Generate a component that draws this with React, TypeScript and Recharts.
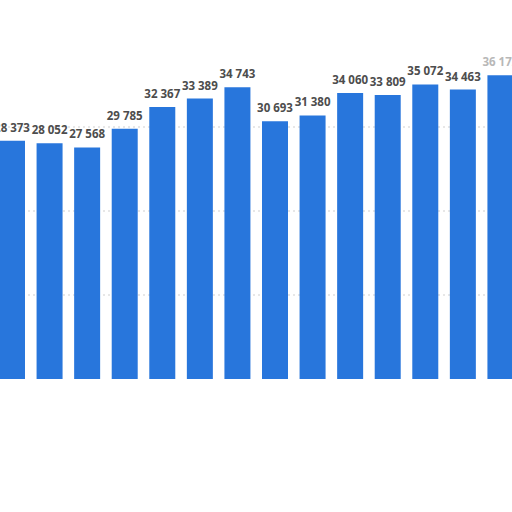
import { BarChart, Bar, XAxis, YAxis, CartesianGrid, LabelList } from "recharts";

// categories are cut off in the picture, so they are just indices
const periods = ["1", "2", "3", "4", "5", "6", "7", "8", "9", "10", "11", "12", "13", "14"];
const values = [28373, 28052, 27568, 29785, 32367, 33389, 34743, 30693, 31380, 34060, 33809, 35072, 34463, 36172];
const gridTicks = [10000, 20000, 30000];

const data = periods.map((p, i) => ({ period: p, value: values[i] }));

const fmt = (v: number) => String(v).replace(/\B(?=(\d{3})+(?!\d))/g, " ");

const renderLabel = (props: any) => {
  const { x, y, width, value, index } = props;
  const faded = index === values.length - 1;
  return (
    <text
      x={x + width / 2}
      y={y - 9}
      textAnchor="middle"
      fontFamily="'Open Sans', sans-serif"
      fontWeight={700}
      fontSize={11.5}
      fill={faded ? "#b8b8b8" : "#4d4d4d"}
    >
      {fmt(value)}
    </text>
  );
};

export default function App() {
  return (
    <div style={{ position: "absolute", left: -7, top: 0, width: 526, height: 400 }}>
      <BarChart
        width={526}
        height={400}
        data={data}
        margin={{ top: 43, right: 0, bottom: 21, left: 0 }}
        barCategoryGap={6}
      >
        <CartesianGrid
          vertical={false}
          horizontalValues={gridTicks}
          stroke="#cfcfcf"
          strokeDasharray="2 3"
        />
        <XAxis
          dataKey="period"
          height={0}
          tick={false}
          tickLine={false}
          axisLine={{ stroke: "#cccccc", strokeWidth: 2 }}
        />
        <YAxis hide domain={[0, 40000]} ticks={gridTicks} />
        <Bar dataKey="value" fill="#2876dc" isAnimationActive={false}>
          <LabelList dataKey="value" content={renderLabel} />
        </Bar>
      </BarChart>
    </div>
  );
}
